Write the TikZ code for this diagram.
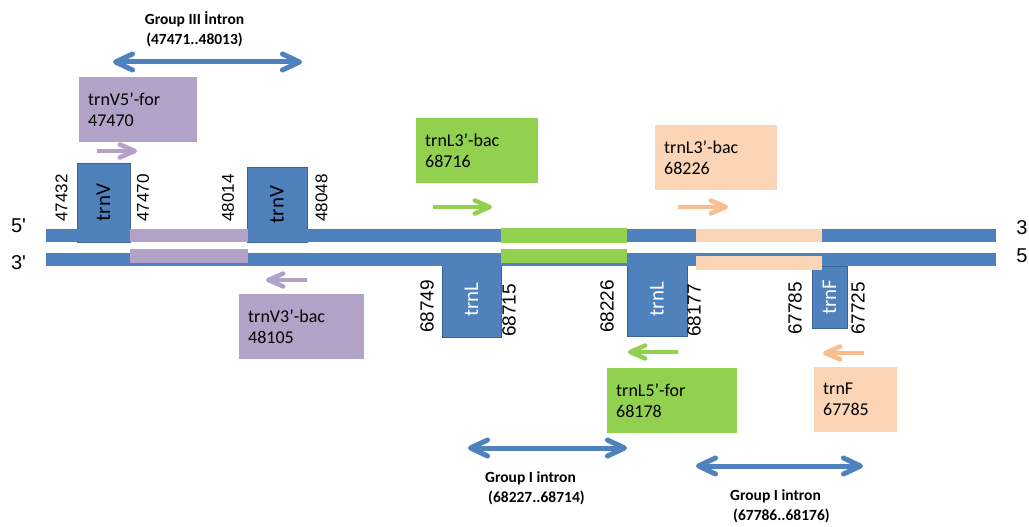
\documentclass[tikz,border=0pt]{standalone}
\usepackage{fontspec}
\setmainfont{Carlito}
\newfontfamily\arialfont{Liberation Sans}
\usetikzlibrary{arrows.meta,positioning}

\definecolor{dnablue}{HTML}{4F81BD}
\definecolor{dnaedge}{HTML}{3B6496}
\definecolor{lilac}{HTML}{B3A2C7}
\definecolor{leaf}{HTML}{92D050}
\definecolor{peach}{HTML}{FBD5B5}
\definecolor{peachdark}{HTML}{F9BE8F}

\begin{document}
\begin{tikzpicture}[x=1pt,y=-1pt,
  primer/.style={fill=#1,anchor=north west,minimum height=65pt,inner xsep=9pt,inner ysep=0pt,align=left,font=\fontsize{18}{21}\selectfont},
  gene/.style={fill=dnablue,draw=dnaedge,line width=0.8pt,rotate=90,inner sep=0pt,font=\fontsize{21}{21}\selectfont},
  coord/.style={rotate=90,anchor=west,inner sep=0pt,font=\arialfont\fontsize{17}{17}\selectfont},
  coordlow/.style={coord,font=\arialfont\fontsize{19}{19}\selectfont},
  strandend/.style={inner sep=0pt,font=\arialfont\fontsize{20}{20}\selectfont},
  intron/.style={inner sep=0pt,align=left,font=\bfseries\fontsize{15.5}{20}\selectfont},
  primerarrow/.style={line width=4.5pt,draw=#1,-{Straight Barb[length=15pt,width=13pt,round]}},
  intronspan/.style={line width=5pt,draw=dnablue,{Straight Barb[length=17pt,width=16pt,round]}-{Straight Barb[length=17pt,width=16pt,round]}}
]
\useasboundingbox (0,0) rectangle (1029,527);

% genes
\node[gene,minimum width=79pt,minimum height=53pt] (trnVa) at (103.5,202.5) {trnV};
\node[gene,minimum width=75pt,minimum height=60pt] (trnVb) at (277,204.5) {trnV};
\node[gene,text=white,minimum width=75pt,minimum height=59pt] (trnLa) at (471.5,299.5) {trnL};
\node[gene,text=white,minimum width=74pt,minimum height=60pt] (trnLb) at (657,299) {trnL};
\node[gene,text=white,minimum width=62pt,minimum height=35pt] (trnF) at (829.5,297) {trnF};

% strands
\fill[dnablue] (46,229) rectangle (996,242);
\fill[dnablue] (46,253) rectangle (996,266);
\fill[lilac] (130,229) rectangle (248,242);
\fill[lilac] (130,249) rectangle (248,263);
\fill[leaf] (501,228) rectangle (627,243);
\fill[leaf] (501,249) rectangle (627,263);
\fill[peach] (696,229) rectangle (822,242);
\fill[peach] (696,256) rectangle (822,270);

\node[strandend] (top5) at (18.5,225.5) {5'};
\node[strandend] (bot3) at (18.5,263) {3'};
\node[strandend] (top3) at (1022,228) {3};
\node[strandend] (bot5) at (1022,256) {5};

% positions
\node[coord] (p47432) at (61.5,222) {47432};
\node[coord] (p47470) at (143,222) {47470};
\node[coord] (p48014) at (228,222) {48014};
\node[coord] (p48048) at (321.5,222) {48048};
\node[coordlow] (p68749) at (427,333) {68749};
\node[coordlow] (p68715) at (509,337) {68715};
\node[coordlow] (p68226) at (607,333) {68226};
\node[coordlow] (p68177) at (694,337) {68177};
\node[coordlow] (p67785) at (795,335) {67785};
\node[coordlow] (p67725) at (858,335) {67725};

% primers
\node[primer=lilac,text width=100pt] (V5for) at (79,77) {trnV5’-for\\47470};
\node[primer=lilac,text width=107pt] (V3bac) at (239,294) {trnV3’-bac\\48105};
\node[primer=leaf,text width=104pt] (L3bac) at (416,118) {trnL3’-bac\\68716};
\node[primer=peach,text width=104pt] (L3bacF) at (655,125) {trnL3’-bac\\68226};
\node[primer=leaf,text width=112pt] (L5for) at (607,368) {trnL5’-for\\68178};
\node[primer=peach,text width=65pt] (Fprim) at (814,367) {trnF\\67785};

\coordinate (V5a) at (97,151);   \coordinate (V5b) at (137,151);
\coordinate (V3a) at (307,280);  \coordinate (V3b) at (266,280);
\coordinate (L3a) at (433,207);  \coordinate (L3b) at (492,207);
\coordinate (F3a) at (678,207);  \coordinate (F3b) at (728,207);
\coordinate (L5a) at (678,352);  \coordinate (L5b) at (628,352);
\coordinate (F5a) at (864,353);  \coordinate (F5b) at (823,353);
\draw[primerarrow=lilac] (V5a) -- (V5b);
\draw[primerarrow=lilac] (V3a) -- (V3b);
\draw[primerarrow=leaf] (L3a) -- (L3b);
\draw[primerarrow=peachdark] (F3a) -- (F3b);
\draw[primerarrow=leaf] (L5a) -- (L5b);
\draw[primerarrow=peachdark] (F5a) -- (F5b);

% introns
\node[intron,align=center] (grpIII) at (194.5,29) {Group III İntron\\(47471..48013)};
\node[intron,anchor=west] (grpIa) at (485,488.5) {Group I intron\\\hspace{3pt}(68227..68714)};
\node[intron,anchor=west] (grpIb) at (730,506.5) {Group I intron\\\hspace{3pt}(67786..68176)};
\coordinate (gIIIa) at (113,62); \coordinate (gIIIb) at (302,62);
\coordinate (gIaa) at (468,448); \coordinate (gIab) at (627,448);
\coordinate (gIba) at (696,466); \coordinate (gIbb) at (863,466);
\draw[intronspan] (gIIIa) -- (gIIIb);
\draw[intronspan] (gIaa) -- (gIab);
\draw[intronspan] (gIba) -- (gIbb);
\end{tikzpicture}
\end{document}
